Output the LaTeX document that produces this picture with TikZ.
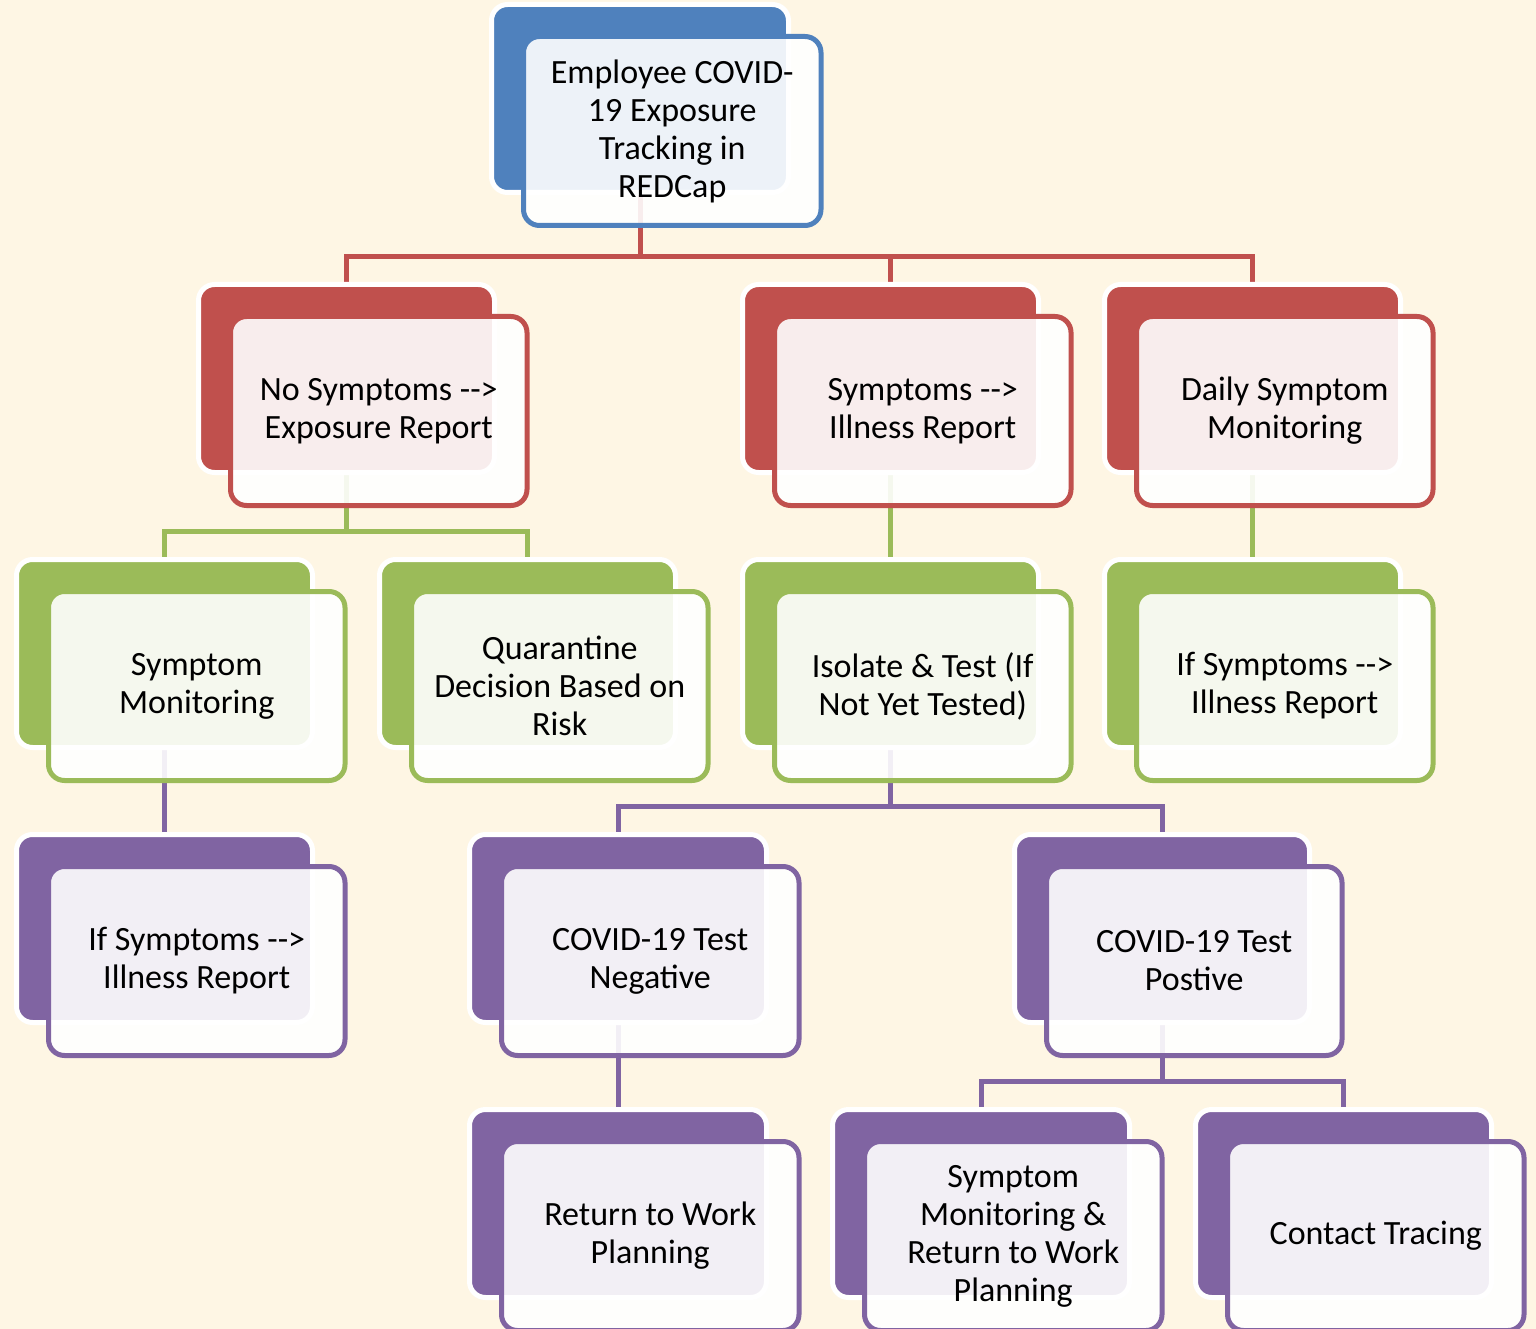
\documentclass[tikz,border=0pt]{standalone}
\usepackage{fontspec}
\setmainfont{Carlito}
\usetikzlibrary{calc}

\definecolor{bgcream}{HTML}{FEF6E4}
\definecolor{cblue}{HTML}{4F81BD}
\definecolor{cred}{HTML}{C0504D}
\definecolor{cgreen}{HTML}{9BBB59}
\definecolor{cpurple}{HTML}{8064A2}

\pgfdeclarelayer{bg}
\pgfdeclarelayer{lines}
\pgfsetlayers{bg,lines,main}

\tikzset{
  backbox/.style={rectangle, rounded corners=16pt, draw=white, line width=5pt,
    fill=#1, inner sep=0pt, outer sep=0pt, minimum height=188pt},
  frontbox/.style={rectangle, rounded corners=16pt, draw=#1, line width=5pt,
    fill=white, fill opacity=0.9, text opacity=1, inner sep=0pt, outer sep=0pt,
    minimum height=189pt, align=center, font=\fontsize{34}{38}\selectfont},
  conn/.style={draw=#1, line width=5pt},
}

% #1 name, #2 left x, #3 top y, #4 width, #5 colour, #6 text
\newcommand\cardpair[6]{%
  \node[backbox=#5, minimum width=#4pt+5pt] (#1b) at (#2+#4/2, #3+91.5) {};
  \node[frontbox=#5, minimum width=#4pt+5.5pt] (#1) at (#2+#4/2+32.25, #3+124) {#6};
}

\begin{document}
\begin{tikzpicture}[x=1pt, y=-1pt]
\useasboundingbox (0,0) rectangle (1536,1329);
\begin{pgfonlayer}{bg}
  \fill[bgcream] (0,0) rectangle (1536,1329);
\end{pgfonlayer}

% level 1
\cardpair{top}{494}{7}{292}{cblue}{Employee COVID-\\19 Exposure\\Tracking in\\REDCap}
% level 2
\cardpair{nosym}{201}{287}{291}{cred}{No Symptoms {-}{-}>\\Exposure Report}
\cardpair{sym}{745}{287}{291}{cred}{Symptoms {-}{-}>\\Illness Report}
\cardpair{daily}{1107}{287}{291}{cred}{Daily Symptom\\Monitoring}
% level 3
\cardpair{smon}{19}{562}{291}{cgreen}{Symptom\\Monitoring}
\cardpair{quar}{382}{562}{291}{cgreen}{Quarantine\\Decision Based on\\Risk}
\cardpair{iso}{745}{562}{291}{cgreen}{Isolate \& Test (If\\Not Yet Tested)}
\cardpair{ifsb}{1107}{562}{291}{cgreen}{If Symptoms {-}{-}>\\Illness Report}
% level 4
\cardpair{ifsa}{19}{837}{291}{cpurple}{If Symptoms {-}{-}>\\Illness Report}
\cardpair{neg}{472}{837}{292}{cpurple}{COVID-19 Test\\Negative}
\cardpair{pos}{1017}{837}{290}{cpurple}{COVID-19 Test\\Postive}
% level 5
\cardpair{rtw}{472}{1112}{292}{cpurple}{Return to Work\\Planning}
\cardpair{smrtw}{835}{1112}{292}{cpurple}{Symptom\\Monitoring \&\\Return to Work\\Planning}
\cardpair{ct}{1198}{1112}{291}{cpurple}{Contact Tracing}

% connectors, kept underneath the cards
\begin{pgfonlayer}{lines}
  \coordinate (busA) at ($(nosymb.north)+(0,-28)$);
  \coordinate (busB) at ($(smonb.north)+(0,-28.5)$);
  \coordinate (busC) at ($(negb.north)+(0,-28.5)$);
  \coordinate (busD) at ($(smrtwb.north)+(0,-28.5)$);

  \draw[conn=cred] (topb.south) -- (topb.south |- busA);
  \draw[conn=cred] (nosymb.north) -- (nosymb.north |- busA) -- (dailyb.north |- busA) -- (dailyb.north);
  \draw[conn=cred] (symb.north) -- (symb.north |- busA);

  \draw[conn=cgreen] (nosymb.south) -- (nosymb.south |- busB);
  \draw[conn=cgreen] (smonb.north) -- (smonb.north |- busB) -- (quarb.north |- busB) -- (quarb.north);
  \draw[conn=cgreen] (symb.south) -- (symb.south |- isob.north);
  \draw[conn=cgreen] (dailyb.south) -- (dailyb.south |- ifsbb.north);

  \draw[conn=cpurple] (smonb.south) -- (smonb.south |- ifsab.north);
  \draw[conn=cpurple] (isob.south) -- (isob.south |- busC);
  \draw[conn=cpurple] (negb.north) -- (negb.north |- busC) -- (posb.north |- busC) -- (posb.north);
  \draw[conn=cpurple] (negb.south) -- (negb.south |- rtwb.north);
  \draw[conn=cpurple] (posb.south) -- (posb.south |- busD);
  \draw[conn=cpurple] (smrtwb.north) -- (smrtwb.north |- busD) -- (ctb.north |- busD) -- (ctb.north);
\end{pgfonlayer}
\end{tikzpicture}
\end{document}
